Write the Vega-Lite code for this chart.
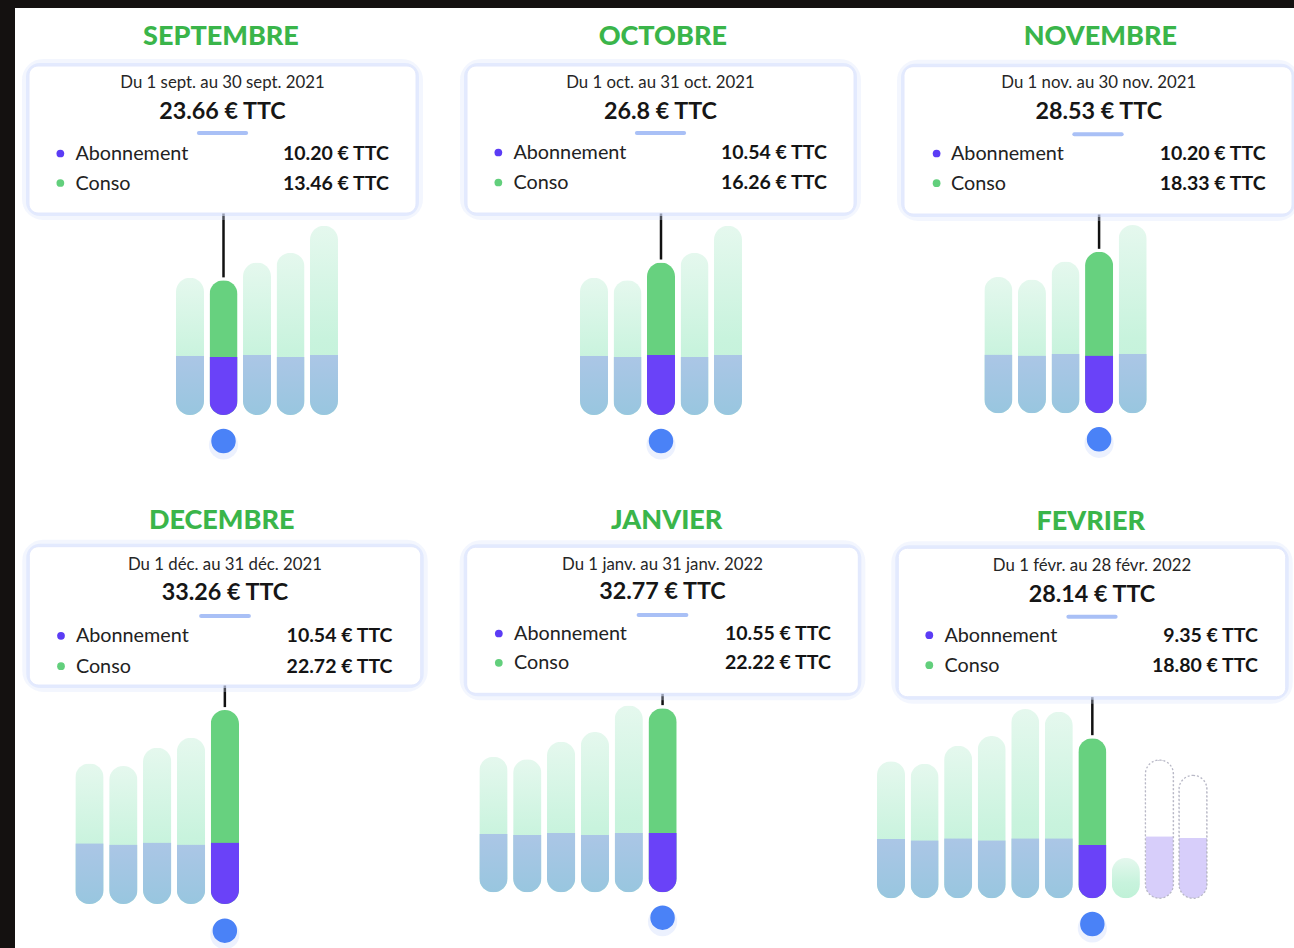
{
"$schema":"https://vega.github.io/schema/vega-lite/v6.json",
"background":"#141110",
"padding":{"left":15,"top":8,"right":0,"bottom":0},
"spacing":0,
"config":{"view":{"stroke":null,"fill":"#ffffff"},"font":"Lato","axis":{"disable":true},"legend":{"disable":true},"concat":{"spacing":0}},
"datasets":{
"bills":[
{"mois":"2021-08","i":0,"total":24.1,"abo":10.4,"kind":"facture"},
{"mois":"2021-09","i":1,"total":23.66,"abo":10.2,"kind":"facture"},
{"mois":"2021-10","i":2,"total":26.8,"abo":10.54,"kind":"facture"},
{"mois":"2021-11","i":3,"total":28.53,"abo":10.2,"kind":"facture"},
{"mois":"2021-12","i":4,"total":33.26,"abo":10.54,"kind":"facture"},
{"mois":"2022-01","i":5,"total":32.77,"abo":10.55,"kind":"facture"},
{"mois":"2022-02","i":6,"total":28.14,"abo":9.35,"kind":"facture"},
{"mois":"2022-03","i":7,"total":7.1,"abo":0,"kind":"encours"},
{"mois":"2022-04","i":8,"total":24.3,"abo":10.9,"kind":"prevision"},
{"mois":"2022-05","i":9,"total":21.6,"abo":10.6,"kind":"prevision"}
],
"cards":[
{"mois":"2021-09","titre":"SEPTEMBRE","periode":"Du 1 sept. au 30 sept. 2021","total":"23.66 € TTC"},
{"mois":"2021-10","titre":"OCTOBRE","periode":"Du 1 oct. au 31 oct. 2021","total":"26.8 € TTC"},
{"mois":"2021-11","titre":"NOVEMBRE","periode":"Du 1 nov. au 30 nov. 2021","total":"28.53 € TTC"},
{"mois":"2021-12","titre":"DECEMBRE","periode":"Du 1 déc. au 31 déc. 2021","total":"33.26 € TTC"},
{"mois":"2022-01","titre":"JANVIER","periode":"Du 1 janv. au 31 janv. 2022","total":"32.77 € TTC"},
{"mois":"2022-02","titre":"FEVRIER","periode":"Du 1 févr. au 28 févr. 2022","total":"28.14 € TTC"}
],
"parts":[
{"mois":"2021-09","poste":"Abonnement","montant":"10.20 € TTC"},
{"mois":"2021-09","poste":"Conso","montant":"13.46 € TTC"},
{"mois":"2021-10","poste":"Abonnement","montant":"10.54 € TTC"},
{"mois":"2021-10","poste":"Conso","montant":"16.26 € TTC"},
{"mois":"2021-11","poste":"Abonnement","montant":"10.20 € TTC"},
{"mois":"2021-11","poste":"Conso","montant":"18.33 € TTC"},
{"mois":"2021-12","poste":"Abonnement","montant":"10.54 € TTC"},
{"mois":"2021-12","poste":"Conso","montant":"22.72 € TTC"},
{"mois":"2022-01","poste":"Abonnement","montant":"10.55 € TTC"},
{"mois":"2022-01","poste":"Conso","montant":"22.22 € TTC"},
{"mois":"2022-02","poste":"Abonnement","montant":"9.35 € TTC"},
{"mois":"2022-02","poste":"Conso","montant":"18.80 € TTC"}
]
},
"vconcat":[
{"hconcat":[
{"width":426,"height":470,
"resolve":{"scale":{"x":"independent","y":"independent","color":"independent"}},
"layer":[
{"data":{"name":"bills"},"transform":[{"filter":"datum.i <= 4"}],
"encoding":{"x":{"field":"mois","type":"ordinal","scale":{"domain":["2021-08","2021-09","2021-10","2021-11","2021-12"],"range":[161,323],"paddingInner":0.164,"paddingOuter":0}},
"y":{"field":"total","type":"quantitative","scale":{"domain":[0,40],"nice":false,"range":[407,179.4]}}},
"layer":[
{"transform":[{"filter":"datum.i == 1"}],"mark":{"type":"rule","color":"#111111","strokeWidth":2.5,"yOffset":-3},"encoding":{"y2":{"datum":45}}},
{"transform":[{"filter":"datum.i != 1 && datum.kind != 'prevision'"}],"mark":{"type":"bar","cornerRadius":14,"color":{"gradient":"linear","x1":0,"y1":0,"x2":0,"y2":1,"stops":[{"offset":0,"color":"#e5f8ee"},{"offset":0.6,"color":"#c8f3dd"},{"offset":1,"color":"#bff1d7"}]}}},
{"transform":[{"filter":"datum.i != 1 && datum.kind == 'facture'"}],"mark":{"type":"bar","cornerRadiusBottomLeft":14,"cornerRadiusBottomRight":14,"color":{"gradient":"linear","x1":0,"y1":0,"x2":0,"y2":1,"stops":[{"offset":0,"color":"#abc6e6"},{"offset":1,"color":"#98c6df"}]}},"encoding":{"y":{"field":"abo","type":"quantitative"}}},
{"transform":[{"filter":"datum.i == 1"}],"mark":{"type":"bar","cornerRadius":14,"color":"#67d17f"}},
{"transform":[{"filter":"datum.i == 1"}],"mark":{"type":"bar","cornerRadiusBottomLeft":14,"cornerRadiusBottomRight":14,"color":"#6a42f8"},"encoding":{"y":{"field":"abo","type":"quantitative"}}},
{"transform":[{"filter":"datum.i == 1"}],"mark":{"type":"circle","size":850,"color":"#c8d6fc","opacity":0.35,"yOffset":30},"encoding":{"y":{"datum":0}}},
{"transform":[{"filter":"datum.i == 1"}],"mark":{"type":"circle","size":600,"color":"#4a82f7","opacity":1,"yOffset":26},"encoding":{"y":{"datum":0}}}
]},
{"data":{"name":"cards"},"transform":[{"filter":"datum.mois == '2021-09'"}],
"layer":[
{"mark":{"type":"rect","cornerRadius":14,"filled":false,"stroke":"#d6e0fd","strokeWidth":14,"strokeOpacity":0.3,"clip":true},"encoding":{"x":{"datum":0,"type":"quantitative","scale":{"domain":[0,1],"nice":false,"range":[14,401]}},"x2":{"datum":1},"y":{"datum":0,"type":"quantitative","scale":{"domain":[0,147],"nice":false,"range":[58,205]}},"y2":{"datum":147}}},
{"mark":{"type":"rect","cornerRadius":11,"filled":false,"stroke":"#d6e0fd","strokeWidth":6,"strokeOpacity":0.55,"clip":true},"encoding":{"x":{"datum":0},"x2":{"datum":1},"y":{"datum":0},"y2":{"datum":147}}},
{"mark":{"type":"rect","cornerRadius":9,"color":"#ffffff","stroke":"#e2e8fd","strokeWidth":1},"encoding":{"x":{"datum":0},"x2":{"datum":1},"y":{"datum":0},"y2":{"datum":147}}},
{"mark":{"type":"rule","color":"#a9c0f6","strokeWidth":4,"strokeCap":"round"},"encoding":{"x":{"datum":0.439},"x2":{"datum":0.561},"y":{"datum":67}}},
{"mark":{"type":"text","align":"center","baseline":"alphabetic","fontSize":27,"fontWeight":900,"color":"#3ab54a"},"encoding":{"x":{"datum":0.496},"y":{"datum":-21},"text":{"field":"titre"}}},
{"mark":{"type":"text","align":"center","baseline":"alphabetic","fontSize":16.8,"color":"#262626"},"encoding":{"x":{"datum":0.5},"y":{"datum":22},"text":{"field":"periode"}}},
{"mark":{"type":"text","align":"center","baseline":"alphabetic","fontSize":23.3,"fontWeight":"bold","color":"#161616"},"encoding":{"x":{"datum":0.5},"y":{"datum":53},"text":{"field":"total"}}}
]},
{"data":{"name":"parts"},"transform":[{"filter":"datum.mois == '2021-09'"}],
"encoding":{"y":{"field":"poste","type":"nominal","scale":{"type":"point","domain":["Abonnement","Conso"],"range":[152,181.5],"padding":0}}},
"layer":[
{"mark":{"type":"circle","size":60,"opacity":1,"yOffset":-6.5},"encoding":{"x":{"datum":0.081,"type":"quantitative","scale":{"domain":[0,1],"nice":false,"range":[14,401]}},"color":{"field":"poste","type":"nominal","scale":{"domain":["Abonnement","Conso"],"range":["#5b3cf5","#62cf7c"]}}}},
{"mark":{"type":"text","align":"left","baseline":"alphabetic","fontSize":19.8,"color":"#222222"},"encoding":{"x":{"datum":0.12},"text":{"field":"poste"}}},
{"mark":{"type":"text","align":"right","baseline":"alphabetic","fontSize":19.5,"fontWeight":"bold","color":"#141414"},"encoding":{"x":{"datum":0.93},"text":{"field":"montant"}}}
]}
]},
{"width":426,"height":470,
"resolve":{"scale":{"x":"independent","y":"independent","color":"independent"}},
"layer":[
{"data":{"name":"bills"},"transform":[{"filter":"datum.i <= 4"}],
"encoding":{"x":{"field":"mois","type":"ordinal","scale":{"domain":["2021-08","2021-09","2021-10","2021-11","2021-12"],"range":[139,301],"paddingInner":0.164,"paddingOuter":0}},
"y":{"field":"total","type":"quantitative","scale":{"domain":[0,40],"nice":false,"range":[407,179.4]}}},
"layer":[
{"transform":[{"filter":"datum.i == 2"}],"mark":{"type":"rule","color":"#111111","strokeWidth":2.5,"yOffset":-3},"encoding":{"y2":{"datum":45}}},
{"transform":[{"filter":"datum.i != 2 && datum.kind != 'prevision'"}],"mark":{"type":"bar","cornerRadius":14,"color":{"gradient":"linear","x1":0,"y1":0,"x2":0,"y2":1,"stops":[{"offset":0,"color":"#e5f8ee"},{"offset":0.6,"color":"#c8f3dd"},{"offset":1,"color":"#bff1d7"}]}}},
{"transform":[{"filter":"datum.i != 2 && datum.kind == 'facture'"}],"mark":{"type":"bar","cornerRadiusBottomLeft":14,"cornerRadiusBottomRight":14,"color":{"gradient":"linear","x1":0,"y1":0,"x2":0,"y2":1,"stops":[{"offset":0,"color":"#abc6e6"},{"offset":1,"color":"#98c6df"}]}},"encoding":{"y":{"field":"abo","type":"quantitative"}}},
{"transform":[{"filter":"datum.i == 2"}],"mark":{"type":"bar","cornerRadius":14,"color":"#67d17f"}},
{"transform":[{"filter":"datum.i == 2"}],"mark":{"type":"bar","cornerRadiusBottomLeft":14,"cornerRadiusBottomRight":14,"color":"#6a42f8"},"encoding":{"y":{"field":"abo","type":"quantitative"}}},
{"transform":[{"filter":"datum.i == 2"}],"mark":{"type":"circle","size":850,"color":"#c8d6fc","opacity":0.35,"yOffset":30},"encoding":{"y":{"datum":0}}},
{"transform":[{"filter":"datum.i == 2"}],"mark":{"type":"circle","size":600,"color":"#4a82f7","opacity":1,"yOffset":26},"encoding":{"y":{"datum":0}}}
]},
{"data":{"name":"cards"},"transform":[{"filter":"datum.mois == '2021-10'"}],
"layer":[
{"mark":{"type":"rect","cornerRadius":14,"filled":false,"stroke":"#d6e0fd","strokeWidth":14,"strokeOpacity":0.3,"clip":true},"encoding":{"x":{"datum":0,"type":"quantitative","scale":{"domain":[0,1],"nice":false,"range":[26,413]}},"x2":{"datum":1},"y":{"datum":0,"type":"quantitative","scale":{"domain":[0,147],"nice":false,"range":[58,205]}},"y2":{"datum":147}}},
{"mark":{"type":"rect","cornerRadius":11,"filled":false,"stroke":"#d6e0fd","strokeWidth":6,"strokeOpacity":0.55,"clip":true},"encoding":{"x":{"datum":0},"x2":{"datum":1},"y":{"datum":0},"y2":{"datum":147}}},
{"mark":{"type":"rect","cornerRadius":9,"color":"#ffffff","stroke":"#e2e8fd","strokeWidth":1},"encoding":{"x":{"datum":0},"x2":{"datum":1},"y":{"datum":0},"y2":{"datum":147}}},
{"mark":{"type":"rule","color":"#a9c0f6","strokeWidth":4,"strokeCap":"round"},"encoding":{"x":{"datum":0.439},"x2":{"datum":0.561},"y":{"datum":67}}},
{"mark":{"type":"text","align":"center","baseline":"alphabetic","fontSize":27,"fontWeight":900,"color":"#3ab54a"},"encoding":{"x":{"datum":0.506},"y":{"datum":-21},"text":{"field":"titre"}}},
{"mark":{"type":"text","align":"center","baseline":"alphabetic","fontSize":16.8,"color":"#262626"},"encoding":{"x":{"datum":0.5},"y":{"datum":21.5},"text":{"field":"periode"}}},
{"mark":{"type":"text","align":"center","baseline":"alphabetic","fontSize":23.3,"fontWeight":"bold","color":"#161616"},"encoding":{"x":{"datum":0.5},"y":{"datum":53},"text":{"field":"total"}}}
]},
{"data":{"name":"parts"},"transform":[{"filter":"datum.mois == '2021-10'"}],
"encoding":{"y":{"field":"poste","type":"nominal","scale":{"type":"point","domain":["Abonnement","Conso"],"range":[151,181],"padding":0}}},
"layer":[
{"mark":{"type":"circle","size":60,"opacity":1,"yOffset":-6.5},"encoding":{"x":{"datum":0.081,"type":"quantitative","scale":{"domain":[0,1],"nice":false,"range":[26,413]}},"color":{"field":"poste","type":"nominal","scale":{"domain":["Abonnement","Conso"],"range":["#5b3cf5","#62cf7c"]}}}},
{"mark":{"type":"text","align":"left","baseline":"alphabetic","fontSize":19.8,"color":"#222222"},"encoding":{"x":{"datum":0.12},"text":{"field":"poste"}}},
{"mark":{"type":"text","align":"right","baseline":"alphabetic","fontSize":19.5,"fontWeight":"bold","color":"#141414"},"encoding":{"x":{"datum":0.93},"text":{"field":"montant"}}}
]}
]},
{"width":427,"height":470,
"resolve":{"scale":{"x":"independent","y":"independent","color":"independent"}},
"layer":[
{"data":{"name":"bills"},"transform":[{"filter":"datum.i <= 4"}],
"encoding":{"x":{"field":"mois","type":"ordinal","scale":{"domain":["2021-08","2021-09","2021-10","2021-11","2021-12"],"range":[117.3,279.7],"paddingInner":0.164,"paddingOuter":0}},
"y":{"field":"total","type":"quantitative","scale":{"domain":[0,40],"nice":false,"range":[405.3,178.9]}}},
"layer":[
{"transform":[{"filter":"datum.i == 3"}],"mark":{"type":"rule","color":"#111111","strokeWidth":2.5,"yOffset":-3},"encoding":{"y2":{"datum":45}}},
{"transform":[{"filter":"datum.i != 3 && datum.kind != 'prevision'"}],"mark":{"type":"bar","cornerRadius":14,"color":{"gradient":"linear","x1":0,"y1":0,"x2":0,"y2":1,"stops":[{"offset":0,"color":"#e5f8ee"},{"offset":0.6,"color":"#c8f3dd"},{"offset":1,"color":"#bff1d7"}]}}},
{"transform":[{"filter":"datum.i != 3 && datum.kind == 'facture'"}],"mark":{"type":"bar","cornerRadiusBottomLeft":14,"cornerRadiusBottomRight":14,"color":{"gradient":"linear","x1":0,"y1":0,"x2":0,"y2":1,"stops":[{"offset":0,"color":"#abc6e6"},{"offset":1,"color":"#98c6df"}]}},"encoding":{"y":{"field":"abo","type":"quantitative"}}},
{"transform":[{"filter":"datum.i == 3"}],"mark":{"type":"bar","cornerRadius":14,"color":"#67d17f"}},
{"transform":[{"filter":"datum.i == 3"}],"mark":{"type":"bar","cornerRadiusBottomLeft":14,"cornerRadiusBottomRight":14,"color":"#6a42f8"},"encoding":{"y":{"field":"abo","type":"quantitative"}}},
{"transform":[{"filter":"datum.i == 3"}],"mark":{"type":"circle","size":850,"color":"#c8d6fc","opacity":0.35,"yOffset":30},"encoding":{"y":{"datum":0}}},
{"transform":[{"filter":"datum.i == 3"}],"mark":{"type":"circle","size":600,"color":"#4a82f7","opacity":1,"yOffset":26},"encoding":{"y":{"datum":0}}}
]},
{"data":{"name":"cards"},"transform":[{"filter":"datum.mois == '2021-11'"}],
"layer":[
{"mark":{"type":"rect","cornerRadius":14,"filled":false,"stroke":"#d6e0fd","strokeWidth":14,"strokeOpacity":0.3,"clip":true},"encoding":{"x":{"datum":0,"type":"quantitative","scale":{"domain":[0,1],"nice":false,"range":[37,425]}},"x2":{"datum":1},"y":{"datum":0,"type":"quantitative","scale":{"domain":[0,147.3],"nice":false,"range":[58.7,206]}},"y2":{"datum":147.3}}},
{"mark":{"type":"rect","cornerRadius":11,"filled":false,"stroke":"#d6e0fd","strokeWidth":6,"strokeOpacity":0.55,"clip":true},"encoding":{"x":{"datum":0},"x2":{"datum":1},"y":{"datum":0},"y2":{"datum":147.3}}},
{"mark":{"type":"rect","cornerRadius":9,"color":"#ffffff","stroke":"#e2e8fd","strokeWidth":1,"clip":true},"encoding":{"x":{"datum":0},"x2":{"datum":1},"y":{"datum":0},"y2":{"datum":147.3}}},
{"mark":{"type":"rule","color":"#a9c0f6","strokeWidth":4,"strokeCap":"round"},"encoding":{"x":{"datum":0.439},"x2":{"datum":0.561},"y":{"datum":67.6}}},
{"mark":{"type":"text","align":"center","baseline":"alphabetic","fontSize":27,"fontWeight":900,"color":"#3ab54a"},"encoding":{"x":{"datum":0.506},"y":{"datum":-21.7},"text":{"field":"titre"}}},
{"mark":{"type":"text","align":"center","baseline":"alphabetic","fontSize":16.8,"color":"#262626"},"encoding":{"x":{"datum":0.502},"y":{"datum":21.6},"text":{"field":"periode"}}},
{"mark":{"type":"text","align":"center","baseline":"alphabetic","fontSize":23.3,"fontWeight":"bold","color":"#161616"},"encoding":{"x":{"datum":0.502},"y":{"datum":52.6},"text":{"field":"total"}}}
]},
{"data":{"name":"parts"},"transform":[{"filter":"datum.mois == '2021-11'"}],
"encoding":{"y":{"field":"poste","type":"nominal","scale":{"type":"point","domain":["Abonnement","Conso"],"range":[152,181.7],"padding":0}}},
"layer":[
{"mark":{"type":"circle","size":60,"opacity":1,"yOffset":-6.5},"encoding":{"x":{"datum":0.084,"type":"quantitative","scale":{"domain":[0,1],"nice":false,"range":[37,425]}},"color":{"field":"poste","type":"nominal","scale":{"domain":["Abonnement","Conso"],"range":["#5b3cf5","#62cf7c"]}}}},
{"mark":{"type":"text","align":"left","baseline":"alphabetic","fontSize":19.8,"color":"#222222"},"encoding":{"x":{"datum":0.121},"text":{"field":"poste"}}},
{"mark":{"type":"text","align":"right","baseline":"alphabetic","fontSize":19.5,"fontWeight":"bold","color":"#141414"},"encoding":{"x":{"datum":0.932},"text":{"field":"montant"}}}
]}
]}
],"spacing":0},
{"hconcat":[
{"width":426,"height":470,
"resolve":{"scale":{"x":"independent","y":"independent","color":"independent"}},
"layer":[
{"data":{"name":"bills"},"transform":[{"filter":"datum.i <= 4"}],
"encoding":{"x":{"field":"mois","type":"ordinal","scale":{"domain":["2021-08","2021-09","2021-10","2021-11","2021-12"],"range":[60.3,224],"paddingInner":0.164,"paddingOuter":0}},
"y":{"field":"total","type":"quantitative","scale":{"domain":[0,40],"nice":false,"range":[426,192.8]}}},
"layer":[
{"transform":[{"filter":"datum.i == 4"}],"mark":{"type":"rule","color":"#111111","strokeWidth":2.5,"yOffset":-3},"encoding":{"y2":{"datum":45}}},
{"transform":[{"filter":"datum.i != 4 && datum.kind != 'prevision'"}],"mark":{"type":"bar","cornerRadius":14,"color":{"gradient":"linear","x1":0,"y1":0,"x2":0,"y2":1,"stops":[{"offset":0,"color":"#e5f8ee"},{"offset":0.6,"color":"#c8f3dd"},{"offset":1,"color":"#bff1d7"}]}}},
{"transform":[{"filter":"datum.i != 4 && datum.kind == 'facture'"}],"mark":{"type":"bar","cornerRadiusBottomLeft":14,"cornerRadiusBottomRight":14,"color":{"gradient":"linear","x1":0,"y1":0,"x2":0,"y2":1,"stops":[{"offset":0,"color":"#abc6e6"},{"offset":1,"color":"#98c6df"}]}},"encoding":{"y":{"field":"abo","type":"quantitative"}}},
{"transform":[{"filter":"datum.i == 4"}],"mark":{"type":"bar","cornerRadius":14,"color":"#67d17f"}},
{"transform":[{"filter":"datum.i == 4"}],"mark":{"type":"bar","cornerRadiusBottomLeft":14,"cornerRadiusBottomRight":14,"color":"#6a42f8"},"encoding":{"y":{"field":"abo","type":"quantitative"}}},
{"transform":[{"filter":"datum.i == 4"}],"mark":{"type":"circle","size":850,"color":"#c8d6fc","opacity":0.35,"yOffset":30.7},"encoding":{"y":{"datum":0}}},
{"transform":[{"filter":"datum.i == 4"}],"mark":{"type":"circle","size":600,"color":"#4a82f7","opacity":1,"yOffset":26.7},"encoding":{"y":{"datum":0}}}
]},
{"data":{"name":"cards"},"transform":[{"filter":"datum.mois == '2021-12'"}],
"layer":[
{"mark":{"type":"rect","cornerRadius":14,"filled":false,"stroke":"#d6e0fd","strokeWidth":14,"strokeOpacity":0.3,"clip":true},"encoding":{"x":{"datum":0,"type":"quantitative","scale":{"domain":[0,1],"nice":false,"range":[14.3,405.7]}},"x2":{"datum":1},"y":{"datum":0,"type":"quantitative","scale":{"domain":[0,138.3],"nice":false,"range":[68.7,207]}},"y2":{"datum":138.3}}},
{"mark":{"type":"rect","cornerRadius":11,"filled":false,"stroke":"#d6e0fd","strokeWidth":6,"strokeOpacity":0.55,"clip":true},"encoding":{"x":{"datum":0},"x2":{"datum":1},"y":{"datum":0},"y2":{"datum":138.3}}},
{"mark":{"type":"rect","cornerRadius":9,"color":"#ffffff","stroke":"#e2e8fd","strokeWidth":1},"encoding":{"x":{"datum":0},"x2":{"datum":1},"y":{"datum":0},"y2":{"datum":138.3}}},
{"mark":{"type":"rule","color":"#a9c0f6","strokeWidth":4,"strokeCap":"round"},"encoding":{"x":{"datum":0.439},"x2":{"datum":0.561},"y":{"datum":69.3}}},
{"mark":{"type":"text","align":"center","baseline":"alphabetic","fontSize":27,"fontWeight":900,"color":"#3ab54a"},"encoding":{"x":{"datum":0.4916},"y":{"datum":-17.7},"text":{"field":"titre"}}},
{"mark":{"type":"text","align":"center","baseline":"alphabetic","fontSize":16.8,"color":"#262626"},"encoding":{"x":{"datum":0.5},"y":{"datum":23.3},"text":{"field":"periode"}}},
{"mark":{"type":"text","align":"center","baseline":"alphabetic","fontSize":23.3,"fontWeight":"bold","color":"#161616"},"encoding":{"x":{"datum":0.5},"y":{"datum":53.3},"text":{"field":"total"}}}
]},
{"data":{"name":"parts"},"transform":[{"filter":"datum.mois == '2021-12'"}],
"encoding":{"y":{"field":"poste","type":"nominal","scale":{"type":"point","domain":["Abonnement","Conso"],"range":[164.3,194.7],"padding":0}}},
"layer":[
{"mark":{"type":"circle","size":60,"opacity":1,"yOffset":-6.5},"encoding":{"x":{"datum":0.081,"type":"quantitative","scale":{"domain":[0,1],"nice":false,"range":[14.3,405.7]}},"color":{"field":"poste","type":"nominal","scale":{"domain":["Abonnement","Conso"],"range":["#5b3cf5","#62cf7c"]}}}},
{"mark":{"type":"text","align":"left","baseline":"alphabetic","fontSize":19.8,"color":"#222222"},"encoding":{"x":{"datum":0.119},"text":{"field":"poste"}}},
{"mark":{"type":"text","align":"right","baseline":"alphabetic","fontSize":19.5,"fontWeight":"bold","color":"#141414"},"encoding":{"x":{"datum":0.928},"text":{"field":"montant"}}}
]}
]},
{"width":426,"height":470,
"resolve":{"scale":{"x":"independent","y":"independent","color":"independent"}},
"layer":[
{"data":{"name":"bills"},"transform":[{"filter":"datum.i <= 5"}],
"encoding":{"x":{"field":"mois","type":"ordinal","scale":{"domain":["2021-08","2021-09","2021-10","2021-11","2021-12","2022-01"],"range":[38.3,235.7],"paddingInner":0.164,"paddingOuter":0}},
"y":{"field":"total","type":"quantitative","scale":{"domain":[0,40],"nice":false,"range":[414.3,189.5]}}},
"layer":[
{"transform":[{"filter":"datum.i == 5"}],"mark":{"type":"rule","color":"#111111","strokeWidth":2.5,"yOffset":-3},"encoding":{"y2":{"datum":45}}},
{"transform":[{"filter":"datum.i != 5 && datum.kind != 'prevision'"}],"mark":{"type":"bar","cornerRadius":14,"color":{"gradient":"linear","x1":0,"y1":0,"x2":0,"y2":1,"stops":[{"offset":0,"color":"#e5f8ee"},{"offset":0.6,"color":"#c8f3dd"},{"offset":1,"color":"#bff1d7"}]}}},
{"transform":[{"filter":"datum.i != 5 && datum.kind == 'facture'"}],"mark":{"type":"bar","cornerRadiusBottomLeft":14,"cornerRadiusBottomRight":14,"color":{"gradient":"linear","x1":0,"y1":0,"x2":0,"y2":1,"stops":[{"offset":0,"color":"#abc6e6"},{"offset":1,"color":"#98c6df"}]}},"encoding":{"y":{"field":"abo","type":"quantitative"}}},
{"transform":[{"filter":"datum.i == 5"}],"mark":{"type":"bar","cornerRadius":14,"color":"#67d17f"}},
{"transform":[{"filter":"datum.i == 5"}],"mark":{"type":"bar","cornerRadiusBottomLeft":14,"cornerRadiusBottomRight":14,"color":"#6a42f8"},"encoding":{"y":{"field":"abo","type":"quantitative"}}},
{"transform":[{"filter":"datum.i == 5"}],"mark":{"type":"circle","size":850,"color":"#c8d6fc","opacity":0.35,"yOffset":29.4},"encoding":{"y":{"datum":0}}},
{"transform":[{"filter":"datum.i == 5"}],"mark":{"type":"circle","size":600,"color":"#4a82f7","opacity":1,"yOffset":25.4},"encoding":{"y":{"datum":0}}}
]},
{"data":{"name":"cards"},"transform":[{"filter":"datum.mois == '2022-01'"}],
"layer":[
{"mark":{"type":"rect","cornerRadius":14,"filled":false,"stroke":"#d6e0fd","strokeWidth":14,"strokeOpacity":0.3,"clip":true},"encoding":{"x":{"datum":0,"type":"quantitative","scale":{"domain":[0,1],"nice":false,"range":[25.7,417.3]}},"x2":{"datum":1},"y":{"datum":0,"type":"quantitative","scale":{"domain":[0,146],"nice":false,"range":[69.3,215.3]}},"y2":{"datum":146}}},
{"mark":{"type":"rect","cornerRadius":11,"filled":false,"stroke":"#d6e0fd","strokeWidth":6,"strokeOpacity":0.55,"clip":true},"encoding":{"x":{"datum":0},"x2":{"datum":1},"y":{"datum":0},"y2":{"datum":146}}},
{"mark":{"type":"rect","cornerRadius":9,"color":"#ffffff","stroke":"#e2e8fd","strokeWidth":1},"encoding":{"x":{"datum":0},"x2":{"datum":1},"y":{"datum":0},"y2":{"datum":146}}},
{"mark":{"type":"rule","color":"#a9c0f6","strokeWidth":4,"strokeCap":"round"},"encoding":{"x":{"datum":0.439},"x2":{"datum":0.561},"y":{"datum":67.7}}},
{"mark":{"type":"text","align":"center","baseline":"alphabetic","fontSize":27,"fontWeight":900,"color":"#3ab54a"},"encoding":{"x":{"datum":0.5107},"y":{"datum":-18.3},"text":{"field":"titre"}}},
{"mark":{"type":"text","align":"center","baseline":"alphabetic","fontSize":16.8,"color":"#262626"},"encoding":{"x":{"datum":0.5},"y":{"datum":22.7},"text":{"field":"periode"}}},
{"mark":{"type":"text","align":"center","baseline":"alphabetic","fontSize":23.3,"fontWeight":"bold","color":"#161616"},"encoding":{"x":{"datum":0.5},"y":{"datum":52},"text":{"field":"total"}}}
]},
{"data":{"name":"parts"},"transform":[{"filter":"datum.mois == '2022-01'"}],
"encoding":{"y":{"field":"poste","type":"nominal","scale":{"type":"point","domain":["Abonnement","Conso"],"range":[162,191.3],"padding":0}}},
"layer":[
{"mark":{"type":"circle","size":60,"opacity":1,"yOffset":-6.5},"encoding":{"x":{"datum":0.082,"type":"quantitative","scale":{"domain":[0,1],"nice":false,"range":[25.7,417.3]}},"color":{"field":"poste","type":"nominal","scale":{"domain":["Abonnement","Conso"],"range":["#5b3cf5","#62cf7c"]}}}},
{"mark":{"type":"text","align":"left","baseline":"alphabetic","fontSize":19.8,"color":"#222222"},"encoding":{"x":{"datum":0.121},"text":{"field":"poste"}}},
{"mark":{"type":"text","align":"right","baseline":"alphabetic","fontSize":19.5,"fontWeight":"bold","color":"#141414"},"encoding":{"x":{"datum":0.93},"text":{"field":"montant"}}}
]}
]},
{"width":427,"height":470,
"resolve":{"scale":{"x":"independent","y":"independent","color":"independent"}},
"layer":[
{"data":{"name":"bills"},
"encoding":{"x":{"field":"mois","type":"ordinal","scale":{"domain":["2021-08","2021-09","2021-10","2021-11","2021-12","2022-01","2022-02","2022-03","2022-04","2022-05"],"range":[10,340],"paddingInner":0.164,"paddingOuter":0}},
"y":{"field":"total","type":"quantitative","scale":{"domain":[0,40],"nice":false,"range":[420.3,192.7]}}},
"layer":[
{"transform":[{"filter":"datum.i == 6"}],"mark":{"type":"rule","color":"#111111","strokeWidth":2.5,"yOffset":-3},"encoding":{"y2":{"datum":45}}},
{"transform":[{"filter":"datum.i != 6 && datum.kind != 'prevision'"}],"mark":{"type":"bar","cornerRadius":14,"color":{"gradient":"linear","x1":0,"y1":0,"x2":0,"y2":1,"stops":[{"offset":0,"color":"#e5f8ee"},{"offset":0.6,"color":"#c8f3dd"},{"offset":1,"color":"#bff1d7"}]}}},
{"transform":[{"filter":"datum.i != 6 && datum.kind == 'facture'"}],"mark":{"type":"bar","cornerRadiusBottomLeft":14,"cornerRadiusBottomRight":14,"color":{"gradient":"linear","x1":0,"y1":0,"x2":0,"y2":1,"stops":[{"offset":0,"color":"#abc6e6"},{"offset":1,"color":"#98c6df"}]}},"encoding":{"y":{"field":"abo","type":"quantitative"}}},
{"transform":[{"filter":"datum.i == 6"}],"mark":{"type":"bar","cornerRadius":14,"color":"#67d17f"}},
{"transform":[{"filter":"datum.i == 6"}],"mark":{"type":"bar","cornerRadiusBottomLeft":14,"cornerRadiusBottomRight":14,"color":"#6a42f8"},"encoding":{"y":{"field":"abo","type":"quantitative"}}},
{"transform":[{"filter":"datum.kind == 'prevision'"}],"mark":{"type":"bar","cornerRadiusBottomLeft":14,"cornerRadiusBottomRight":14,"color":"#d7cefa"},"encoding":{"y":{"field":"abo","type":"quantitative"}}},
{"transform":[{"filter":"datum.kind == 'prevision'"}],"mark":{"type":"bar","cornerRadius":14,"filled":false,"stroke":"#b8b8c6","strokeWidth":1.3,"strokeDash":[2,2]}},
{"transform":[{"filter":"datum.i == 6"}],"mark":{"type":"circle","size":850,"color":"#c8d6fc","opacity":0.35,"yOffset":29.7},"encoding":{"y":{"datum":0}}},
{"transform":[{"filter":"datum.i == 6"}],"mark":{"type":"circle","size":600,"color":"#4a82f7","opacity":1,"yOffset":25.7},"encoding":{"y":{"datum":0}}}
]},
{"data":{"name":"cards"},"transform":[{"filter":"datum.mois == '2022-02'"}],
"layer":[
{"mark":{"type":"rect","cornerRadius":14,"filled":false,"stroke":"#d6e0fd","strokeWidth":14,"strokeOpacity":0.3,"clip":true},"encoding":{"x":{"datum":0,"type":"quantitative","scale":{"domain":[0,1],"nice":false,"range":[31.3,418.7]}},"x2":{"datum":1},"y":{"datum":0,"type":"quantitative","scale":{"domain":[0,148.4],"nice":false,"range":[70.3,218.7]}},"y2":{"datum":148.4}}},
{"mark":{"type":"rect","cornerRadius":11,"filled":false,"stroke":"#d6e0fd","strokeWidth":6,"strokeOpacity":0.55,"clip":true},"encoding":{"x":{"datum":0},"x2":{"datum":1},"y":{"datum":0},"y2":{"datum":148.4}}},
{"mark":{"type":"rect","cornerRadius":9,"color":"#ffffff","stroke":"#e2e8fd","strokeWidth":1},"encoding":{"x":{"datum":0},"x2":{"datum":1},"y":{"datum":0},"y2":{"datum":148.4}}},
{"mark":{"type":"rule","color":"#a9c0f6","strokeWidth":4,"strokeCap":"round"},"encoding":{"x":{"datum":0.439},"x2":{"datum":0.561},"y":{"datum":68.4}}},
{"mark":{"type":"text","align":"center","baseline":"alphabetic","fontSize":27,"fontWeight":900,"color":"#3ab54a"},"encoding":{"x":{"datum":0.497},"y":{"datum":-18.3},"text":{"field":"titre"}}},
{"mark":{"type":"text","align":"center","baseline":"alphabetic","fontSize":16.8,"color":"#262626"},"encoding":{"x":{"datum":0.5},"y":{"datum":22.4},"text":{"field":"periode"}}},
{"mark":{"type":"text","align":"center","baseline":"alphabetic","fontSize":23.3,"fontWeight":"bold","color":"#161616"},"encoding":{"x":{"datum":0.5},"y":{"datum":53.4},"text":{"field":"total"}}}
]},
{"data":{"name":"parts"},"transform":[{"filter":"datum.mois == '2022-02'"}],
"encoding":{"y":{"field":"poste","type":"nominal","scale":{"type":"point","domain":["Abonnement","Conso"],"range":[163.7,193.7],"padding":0}}},
"layer":[
{"mark":{"type":"circle","size":60,"opacity":1,"yOffset":-6.5},"encoding":{"x":{"datum":0.08,"type":"quantitative","scale":{"domain":[0,1],"nice":false,"range":[31.3,418.7]}},"color":{"field":"poste","type":"nominal","scale":{"domain":["Abonnement","Conso"],"range":["#5b3cf5","#62cf7c"]}}}},
{"mark":{"type":"text","align":"left","baseline":"alphabetic","fontSize":19.8,"color":"#222222"},"encoding":{"x":{"datum":0.119},"text":{"field":"poste"}}},
{"mark":{"type":"text","align":"right","baseline":"alphabetic","fontSize":19.5,"fontWeight":"bold","color":"#141414"},"encoding":{"x":{"datum":0.928},"text":{"field":"montant"}}}
]}
]}
],"spacing":0}
]
}
